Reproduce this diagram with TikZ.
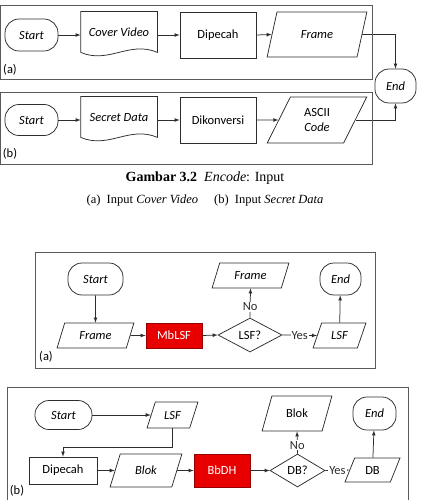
\documentclass[tikz,border=0pt]{standalone}
\usepackage{fontspec}
\setmainfont{Carlito}
\newfontfamily\capfont{Liberation Serif}
\usetikzlibrary{shapes.geometric}
\definecolor{blokred}{RGB}{232,0,0}
\definecolor{tepired}{RGB}{150,0,0}
\definecolor{garis}{RGB}{45,45,45}
\newcommand\nodesize{\fontsize{12.5}{15}\selectfont}
\begin{document}
\begin{tikzpicture}[x=1pt,y=-1pt, line width=.75pt, font=\nodesize,
 term/.style={draw=garis, rounded corners=14pt, inner sep=0pt, font=\nodesize\itshape},
 proses/.style={draw=garis, inner sep=0pt},
 dok/.style={inner sep=0pt, minimum width=76pt, minimum height=46pt, font=\nodesize\itshape},
 data/.style={trapezium, trapezium left angle=64, trapezium right angle=116, trapezium stretches=true, draw=garis, inner sep=0pt},
 merah/.style={draw=tepired, fill=blokred, text=white, inner sep=0pt, minimum width=56pt},
 ketupat/.style={diamond, draw=garis, inner sep=0pt},
 bingkai/.style={draw=gray!70!black, line width=.9pt}]
\useasboundingbox (0,0) rectangle (427,500);
\clip (0,0) rectangle (427,500);
% (a) dan (b) bagian atas
\path (31.5,35) node[term, minimum width=53pt, minimum height=32pt] (st1) {Start}
 (119,35) node[dok] (cv) {\raisebox{6pt}{Cover Video}}
 (218,35) node[proses, minimum width=76pt, minimum height=46pt] (dp) {Dipecah}
 (317,34.5) node[data, minimum width=100pt, minimum height=45pt, font=\nodesize\itshape] (fr) {Frame}
 (395.5,86) node[term, minimum width=41pt, minimum height=34pt] (end1) {End}
 (31.5,120) node[term, minimum width=53pt, minimum height=31pt] (st2) {Start}
 (119,120) node[dok] (sd) {\raisebox{6pt}{Secret Data}}
 (218,120) node[proses, minimum width=76pt, minimum height=46pt] (dk) {Dikonversi}
 (317,120) node[data, minimum width=100pt, minimum height=46pt, align=center] (asc) {ASCII\\\textit{Code}};
\foreach \d in {cv,sd} \draw[garis] (\d.north west) -- (\d.north east) -- ([yshift=6pt]\d.south east) .. controls +(-28,-12) and +(28,12) .. ([yshift=6pt]\d.south west) -- cycle;
\foreach \d/\dd in {st1/cv, cv/dp, dp/fr, st2/sd, sd/dk, dk/asc} \draw[garis,-latex] (\d.east) -- (\dd.west);
\draw[garis,-latex] (fr.east) -| (end1);
\draw[garis,-latex] (asc.east) -| (end1);
\draw[bingkai] (0,5) rectangle (372,79) (0,92) rectangle (372,164);
\node (la) at (10,70) {(a)};
\node (lb) at (10,154) {(b)};
% keterangan gambar
\node[font=\capfont\fontsize{14}{16}\selectfont] (cap1) at (205,178) {\textbf{Gambar 3.2}\enspace\textit{Encode}: Input};
\node[font=\capfont\fontsize{12.5}{15}\selectfont] (cap2) at (205,200) {(a)\enspace Input \textit{Cover Video}\hspace{16pt}(b)\enspace Input \textit{Secret Data}};
% (a) MbLSF
\path (95.5,279) node[term, minimum width=55pt, minimum height=32pt] (st4) {Start}
 (95.5,335.5) node[data, minimum width=77pt, minimum height=25pt, font=\nodesize\itshape] (fr2) {Frame}
 (174,335.5) node[merah, minimum height=25pt] (mb) {MbLSF}
 (250,335) node[ketupat, minimum width=64pt, minimum height=34pt] (dm1) {LSF?}
 (250.5,275.5) node[data, minimum width=77pt, minimum height=25pt, font=\nodesize\itshape] (fr3) {Frame}
 (340.5,279) node[term, minimum width=41pt, minimum height=32pt] (end2) {End}
 (339.5,335.5) node[data, minimum width=53pt, minimum height=25pt, font=\nodesize\itshape] (lsf1) {LSF};
\draw[garis,-latex] (st4) -- (fr2);
\foreach \d/\dd in {fr2/mb, mb/dm1} \draw[garis,-latex] (\d.east) -- (\dd.west);
\draw[garis,-latex] (dm1.east) -- node[fill=white, inner sep=1pt] {Yes} (lsf1.west);
\draw[garis,-latex] (dm1.north) -- node[pos=.37, fill=white, inner sep=1pt] {No} (fr3.south);
\draw[garis,-latex] (lsf1) -- (end2);
\draw[bingkai] (35,252) rectangle (375,368);
\node (la2) at (46,357) {(a)};
% (b) BbDH
\path (63.5,415) node[term, minimum width=57pt, minimum height=29pt] (st5) {Start}
 (172.5,415) node[data, minimum width=51pt, minimum height=26pt, font=\nodesize\itshape] (lsf2) {LSF}
 (63,470.5) node[proses, minimum width=68pt, minimum height=27pt] (dpc) {Dipecah}
 (146,470.5) node[data, minimum width=72pt, minimum height=33pt, font=\nodesize\itshape] (blk) {Blok}
 (222,470.5) node[merah, minimum height=33pt] (bb) {BbDH}
 (297.5,470.5) node[ketupat, minimum width=55pt, minimum height=33pt] (dm2) {DB?}
 (297,413.5) node[data, minimum width=70pt, minimum height=35pt] (blk2) {Blok}
 (374.5,413.5) node[term, minimum width=43pt, minimum height=33pt] (end3) {End}
 (372.5,470) node[data, minimum width=55pt, minimum height=24pt] (db) {DB};
\foreach \d/\dd in {st5/lsf2, dpc/blk, blk/bb, bb/dm2} \draw[garis,-latex] (\d.east) -- (\dd.west);
\draw[garis,-latex] (lsf2.south) -- ++(0,19) -| (dpc.north);
\draw[garis,-latex] (dm2.east) -- node[fill=white, inner sep=1pt] {Yes} (db.west);
\draw[garis,-latex] (dm2.north) -- node[pos=.37, fill=white, inner sep=1pt] {No} (blk2.south);
\draw[garis,-latex] (db) -- (end3);
\draw[bingkai] (7,387) rectangle (408,510);
\node (lb2) at (17,491) {(b)};
\end{tikzpicture}
\end{document}
